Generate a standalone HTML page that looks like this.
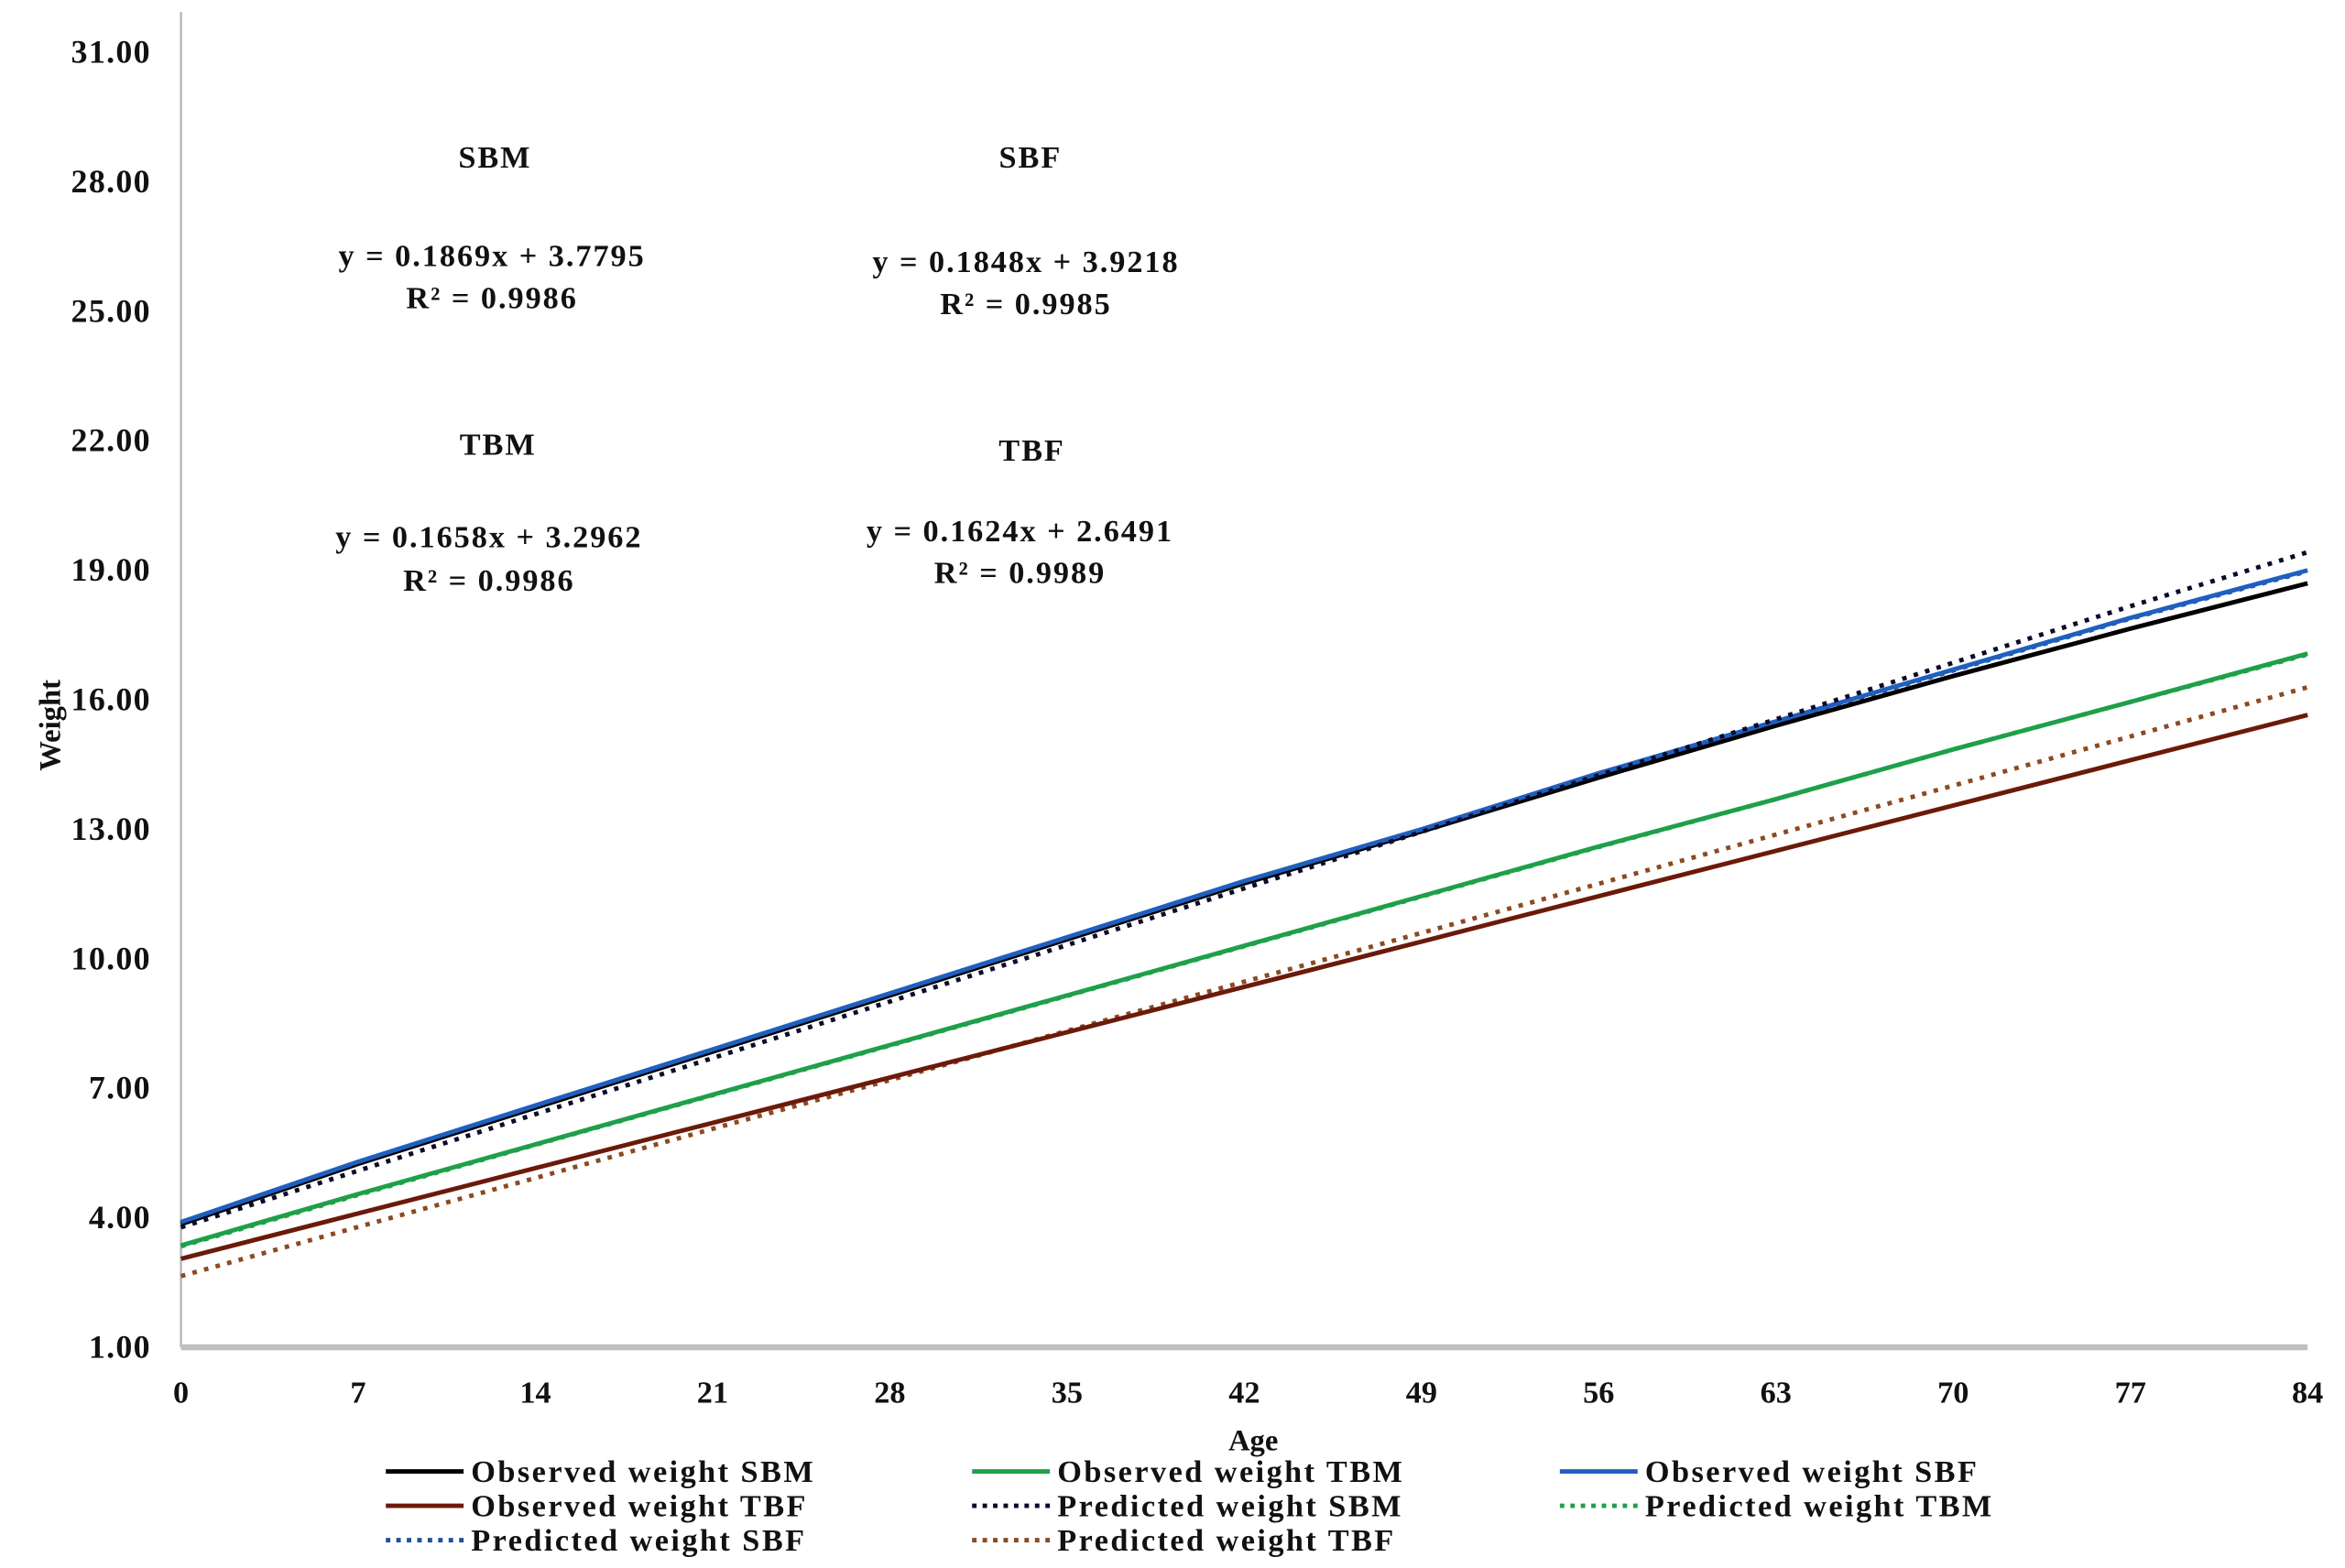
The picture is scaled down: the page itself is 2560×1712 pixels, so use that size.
<!DOCTYPE html>
<html><head><meta charset="utf-8"><style>
html,body{margin:0;padding:0;background:#fff;}
svg{display:block;}
text{font-family:"Liberation Serif",serif;font-weight:bold;fill:#111;}
</style></head>
<body>
<svg id="chart" width="2560" height="1712" viewBox="0 0 1568 1048.6" preserveAspectRatio="none" xmlns="http://www.w3.org/2000/svg">
<g id="axes"></g>
<g id="series"></g>
<g font-size="21" text-anchor="middle" letter-spacing="1.2">
<text x="331" y="112">SBM</text>
<text x="329" y="178">y = 0.1869x + 3.7795</text>
<text x="329" y="206">R² = 0.9986</text>
<text x="689" y="112">SBF</text>
<text x="686" y="182">y = 0.1848x + 3.9218</text>
<text x="686" y="210">R² = 0.9985</text>
<text x="333" y="304">TBM</text>
<text x="327" y="366">y = 0.1658x + 3.2962</text>
<text x="327" y="395">R² = 0.9986</text>
<text x="690" y="308">TBF</text>
<text x="682" y="362">y = 0.1624x + 2.6491</text>
<text x="682" y="390">R² = 0.9989</text>
</g>
<text font-size="20" text-anchor="middle" transform="translate(40,485) rotate(-90)">Weight</text>
<text font-size="20" text-anchor="middle" x="838" y="970">Age</text>
<g id="legend" font-size="21" letter-spacing="1.5"></g>
</svg>
<script>
const ages = [0,7,14,21,28,35,42,49,56,63,70,77,84];
const yTicks = [1,4,7,10,13,16,19,22,25,28,31];
const xTicks = [0,7,14,21,28,35,42,49,56,63,70,77,84];
const obsSBM = [3.85,5.25,6.55,7.85,9.15,10.45,11.75,12.95,14.2,15.4,16.55,17.65,18.7];
const obsTBM = [3.36,4.55,5.7,6.85,8.0,9.15,10.3,11.45,12.6,13.7,14.85,15.95,17.07];
const obsSBF = [3.9,5.3,6.6,7.9,9.2,10.5,11.8,13.0,14.3,15.5,16.7,17.9,19.0];
const obsTBF = [3.05,4.1,5.15,6.2,7.25,8.3,9.35,10.4,11.45,12.5,13.55,14.6,15.65];
const predSBM = [3.78,5.09,6.40,7.70,9.01,10.32,11.63,12.94,14.25,15.55,16.86,18.17,19.42];
const predTBM = [3.34,4.53,5.69,6.84,7.99,9.14,10.29,11.44,12.59,13.70,14.85,15.95,17.05];
const predSBF = [3.88,5.28,6.58,7.88,9.18,10.48,11.78,12.98,14.28,15.48,16.68,17.88,18.98];
const predTBF = [2.65,3.79,4.92,6.06,7.19,8.33,9.47,10.60,11.74,12.88,14.01,15.15,16.29];
const seriesNames = ["Observed weight SBM","Observed weight TBM","Observed weight SBF","Observed weight TBF","Predicted weight SBM","Predicted weight TBM","Predicted weight SBF","Predicted weight TBF"];

const NS="http://www.w3.org/2000/svg";
const X0=121,X1=1543,Y0=901,Y1=35;
function xs(v){return X0+(v-0)/(84-0)*(X1-X0);}
function ys(v){return Y0-(v-1)/(31-1)*(Y0-Y1);}
function mk(tag,attrs,parent){const e=document.createElementNS(NS,tag);for(const k in attrs)e.setAttribute(k,attrs[k]);parent.appendChild(e);return e;}
const axes=document.getElementById('axes');
const yl=mk('line',{x1:X0,y1:8,x2:X0,y2:Y0,stroke:'#b8b8b8','stroke-width':1.5},axes);


const xl=mk('line',{x1:X0,y1:Y0,x2:X1,y2:Y0,stroke:'#c0c0c0','stroke-width':4},axes);


yTicks.forEach(t=>{const e=mk('text',{x:101,y:ys(t)+7,'text-anchor':'end','font-size':22,'letter-spacing':0.8},axes);e.textContent=t.toFixed(2);

});
xTicks.forEach(t=>{const e=mk('text',{x:xs(t),y:938,'text-anchor':'middle','font-size':21},axes);e.textContent=t;

});

const styles=[
 {d:obsSBM,c:'#000000',dash:null},
 {d:obsTBM,c:'#1ea04a',dash:null},
 {d:obsSBF,c:'#1f5fbf',dash:null},
 {d:obsTBF,c:'#6b1a0a',dash:null},
 {d:predSBM,c:'#0a0a2a',dash:'3 5'},
 {d:predTBM,c:'#1ea04a',dash:'3 5'},
 {d:predSBF,c:'#1f4f9f',dash:'3 5'},
 {d:predTBF,c:'#8a4a22',dash:'3 5'}];
const order=[7,3,5,1,6,0,2,4];
const sg=document.getElementById('series');
order.forEach(i=>{const s=styles[i];
 const pts=s.d.map((v,j)=>xs(ages[j]).toFixed(1)+','+ys(v).toFixed(1)).join(' ');
 const a={points:pts,fill:'none',stroke:s.c,'stroke-width':3};
 if(s.dash)a['stroke-dasharray']=s.dash;
 const p=mk('polyline',a,sg);
 
 });

const lg=document.getElementById('legend');
const cols=[258,650,1043],rows=[984,1007,1030];
seriesNames.forEach((n,i)=>{const cx=cols[i%3],cy=rows[Math.floor(i/3)];const s=styles[i];
 const a={x1:cx,y1:cy,x2:cx+52,y2:cy,stroke:s.c,'stroke-width':3};
 if(s.dash)a['stroke-dasharray']='3 4';
 const l=mk('line',a,lg);
 
 
 const t=mk('text',{x:cx+57,y:cy+7},lg);t.textContent=n;
 
 });
</script>
</body></html>
